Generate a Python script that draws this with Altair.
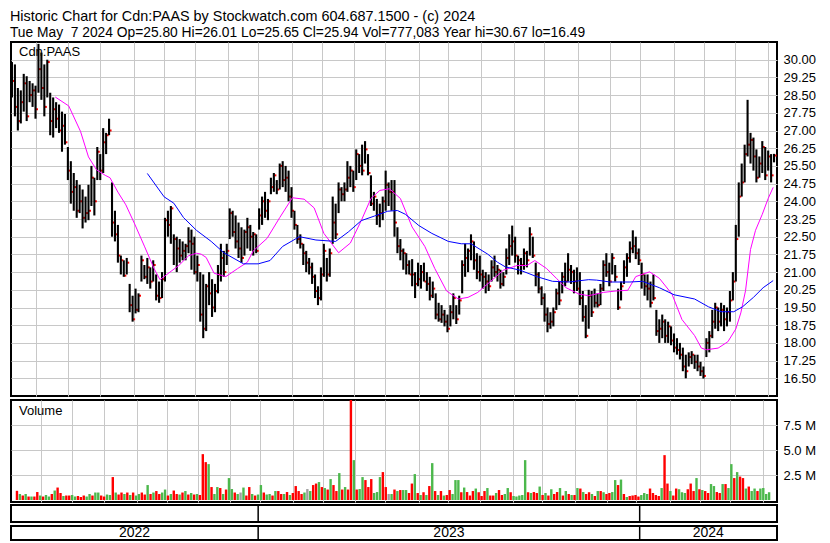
import altair as alt
import pandas as pd

# ---------------- data (one bar per ~2 sessions) ----------------
high = [
    29.9, 29.8, 28.8, 28.7, 29.4, 29.3, 29.1, 29.0, 28.9, 30.67,
    30.3, 29.8, 30.0, 28.6, 28.4, 28.2, 28.1, 27.8, 27.7, 26.3,
    25.7, 25.2, 24.9, 24.7, 24.5, 24.2, 24.7, 25.5, 25.0, 26.3,
    26.0, 27.1, 26.9, 27.5, 24.8, 23.6, 23.0, 21.7, 21.5, 21.6,
    20.5, 20.0, 20.3, 20.1, 21.7, 21.3, 21.6, 21.2, 21.5, 20.9,
    20.6, 21.0, 23.3, 23.6, 23.8, 22.6, 22.5, 22.4, 22.3, 22.2,
    22.9, 22.8, 22.5, 21.7, 21.0, 20.9, 20.5, 21.0, 20.7, 20.5,
    21.3, 22.2, 21.9, 22.2, 23.7, 23.6, 23.4, 23.1, 22.9, 22.8,
    23.3, 23.0, 22.7, 22.6, 23.7, 24.2, 24.4, 24.1, 25.0, 25.2,
    24.9, 25.6, 25.7, 25.5, 25.3, 24.6, 23.6, 23.0, 22.6, 22.2,
    21.9, 21.6, 21.4, 20.9, 20.4, 21.2, 22.2, 21.6, 22.0, 24.2,
    23.9, 24.8, 24.6, 24.8, 25.7, 25.5, 25.3, 26.2, 26.0, 26.4,
    26.55, 26.0, 25.1, 24.4, 24.1, 23.9, 24.2, 25.3, 24.8, 24.9,
    24.9, 22.9, 22.4, 22.0, 21.8, 21.5, 21.55, 21.0, 21.4, 21.3,
    21.4, 21.0, 20.8, 20.6, 20.1, 19.7, 19.6, 19.4, 19.2, 19.6,
    20.1, 19.6, 20.0, 21.5, 22.2, 22.0, 22.6, 22.3, 21.8, 21.7,
    21.1, 21.0, 20.9, 21.5, 21.7, 21.3, 21.1, 21.0, 22.0, 22.6,
    22.97, 22.5, 21.7, 21.6, 22.0, 21.9, 22.9, 22.5, 21.4, 21.0,
    20.4, 20.1, 19.5, 19.3, 19.5, 20.3, 20.6, 21.0, 21.4, 21.8,
    21.3, 21.1, 21.2, 21.0, 20.2, 19.6, 20.25, 20.2, 20.3, 20.1,
    20.5, 21.5, 21.8, 21.4, 21.8, 21.3, 20.3, 20.6, 21.5, 21.8,
    22.3, 22.77, 22.5, 22.0, 21.4, 20.9, 20.9, 20.6, 20.9, 19.4,
    19.0, 19.2, 19.0, 18.9, 18.7, 18.4, 18.2, 18.0, 17.8, 17.5,
    17.6, 17.65, 17.5, 17.5, 17.2, 17.0, 18.2, 18.5, 19.4, 19.7,
    19.5, 19.7, 19.6, 19.5, 20.2, 21.0, 23.0, 24.8, 25.6, 26.4,
    28.3, 26.9, 26.7, 26.2, 25.9, 26.55, 26.3, 26.15, 26.0, 26.01,
]
low = [
    28.4, 27.6, 27.0, 27.3, 27.8, 27.4, 28.2, 28.0, 27.5, 28.6,
    28.3, 27.6, 28.4, 26.8, 26.7, 27.1, 26.9, 26.1, 26.4, 24.9,
    23.9, 23.6, 23.3, 23.5, 22.85, 23.1, 23.2, 23.8, 23.4, 24.9,
    24.9, 25.2, 26.0, 26.8, 22.5, 22.3, 21.4, 20.9, 20.8, 20.9,
    19.3, 18.9, 19.25, 19.3, 20.6, 20.7, 20.5, 20.3, 20.6, 19.8,
    19.7, 19.9, 20.6, 22.5, 22.2, 21.3, 21.0, 21.4, 21.5, 21.5,
    21.8, 21.1, 20.9, 20.6, 18.9, 18.2, 18.5, 19.6, 19.1, 19.3,
    20.1, 20.6, 20.8, 21.3, 22.4, 22.5, 22.0, 21.6, 21.4, 21.7,
    22.0, 21.9, 21.7, 21.8, 22.8, 23.0, 23.3, 23.2, 24.3, 24.4,
    24.3, 24.5, 24.6, 24.4, 24.0, 23.3, 22.8, 22.2, 22.0, 21.3,
    21.0, 20.9, 20.5, 19.9, 19.6, 19.8, 20.8, 20.6, 20.8, 22.2,
    22.4, 23.5, 24.0, 24.0, 24.4, 24.6, 24.4, 24.9, 25.2, 25.1,
    25.6, 25.1, 23.8, 23.6, 23.0, 22.9, 23.2, 23.6, 23.8, 23.6,
    22.5, 21.8, 21.5, 21.1, 20.9, 20.9, 20.4, 19.9, 20.4, 20.3,
    20.6, 20.2, 19.8, 19.9, 19.0, 18.9, 18.85, 18.7, 18.45, 18.7,
    19.0, 18.8, 19.2, 20.1, 20.8, 21.0, 21.5, 21.1, 20.7, 20.6,
    20.3, 20.1, 20.2, 20.6, 20.8, 20.6, 20.3, 20.4, 20.9, 21.3,
    21.7, 21.4, 20.9, 20.9, 21.1, 21.2, 21.7, 21.6, 20.4, 20.1,
    19.6, 18.9, 18.45, 18.6, 18.7, 19.4, 19.6, 20.1, 20.4, 20.6,
    20.5, 20.1, 20.2, 19.6, 18.9, 18.2, 18.6, 19.1, 19.5, 19.5,
    19.6, 20.2, 20.8, 20.4, 20.9, 20.6, 19.4, 19.8, 20.5, 20.8,
    21.4, 21.8, 21.55, 21.3, 20.3, 20.0, 19.8, 19.5, 19.8, 18.3,
    18.0, 18.2, 18.0, 18.0, 17.9, 17.6, 17.5, 17.3, 16.8, 16.5,
    17.0, 17.1, 16.9, 16.8, 16.6, 16.49, 17.4, 17.6, 18.2, 18.6,
    18.5, 18.7, 18.5, 18.7, 18.9, 19.8, 20.6, 22.5, 24.2, 24.8,
    25.9, 25.6, 25.3, 24.8, 25.0, 25.2, 24.9, 25.3, 24.8, 25.65,
]
close = [
    29.1, 28.0, 27.4, 28.2, 29.0, 27.6, 28.5, 28.7, 27.9, 29.6,
    28.8, 28.0, 29.9, 27.4, 27.9, 27.5, 27.0, 27.2, 26.5, 25.3,
    24.4, 24.6, 23.6, 24.0, 23.3, 23.5, 23.6, 25.0, 24.0, 26.1,
    25.3, 26.5, 26.8, 27.0, 23.1, 22.6, 21.7, 21.5, 20.85, 21.4,
    19.6, 19.0, 19.4, 20.0, 21.5, 20.8, 21.2, 20.6, 21.3, 20.0,
    19.9, 20.7, 23.2, 23.0, 23.7, 22.4, 22.0, 21.7, 21.9, 22.1,
    22.3, 22.2, 21.0, 21.3, 19.2, 18.6, 20.4, 20.1, 19.5, 20.2,
    20.9, 21.6, 21.0, 21.9, 23.5, 22.7, 22.3, 22.0, 21.6, 22.7,
    22.9, 22.5, 22.6, 21.9, 23.4, 24.0, 23.6, 24.0, 24.6, 25.1,
    24.5, 25.5, 24.9, 25.0, 24.2, 23.6, 23.0, 22.4, 22.2, 21.8,
    21.4, 21.2, 20.8, 20.2, 19.9, 20.9, 21.9, 20.9, 21.8, 23.1,
    22.6, 24.5, 24.3, 24.5, 25.0, 25.3, 24.6, 26.0, 25.5, 25.3,
    26.2, 25.2, 23.9, 24.2, 23.4, 23.5, 24.0, 24.7, 24.4, 24.4,
    23.1, 22.1, 21.9, 21.8, 21.3, 20.9, 20.9, 20.5, 20.7, 21.0,
    20.6, 20.5, 20.0, 20.3, 19.2, 19.0, 19.2, 18.9, 18.6, 19.3,
    19.9, 19.0, 19.8, 21.3, 21.6, 21.9, 22.3, 21.5, 21.0, 20.9,
    20.8, 20.6, 20.4, 21.2, 21.0, 21.1, 20.5, 20.8, 21.6, 22.1,
    22.3, 21.7, 21.5, 21.3, 21.8, 21.5, 22.6, 21.7, 20.9, 20.3,
    19.9, 19.2, 18.8, 18.9, 19.3, 20.1, 19.8, 20.8, 20.6, 21.1,
    21.0, 20.6, 20.3, 19.9, 19.1, 18.3, 20.0, 19.3, 19.7, 19.6,
    20.3, 21.3, 21.0, 20.6, 21.6, 20.8, 19.5, 20.4, 21.2, 21.6,
    22.0, 22.1, 21.8, 21.5, 20.9, 20.4, 20.3, 19.7, 19.9, 18.5,
    18.6, 18.9, 18.3, 18.7, 18.1, 17.8, 17.7, 17.5, 17.0, 16.8,
    17.4, 17.5, 17.2, 17.0, 16.8, 16.6, 18.0, 18.3, 18.9, 19.5,
    18.9, 19.4, 19.0, 19.3, 19.8, 20.6, 22.4, 24.2, 24.8, 26.0,
    26.4, 26.6, 25.9, 25.0, 25.6, 26.3, 25.1, 25.9, 25.1, 25.94,
]
volume_m = [
    0.92, 0.6, 0.45, 0.6, 0.35, 0.35, 0.35, 0.8, 0.45, 0.35,
    0.5, 0.35, 0.6, 0.95, 1.25, 0.7, 0.4, 0.45, 0.45, 0.5,
    0.35, 0.4, 0.3, 0.45, 0.35, 0.6, 0.45, 0.75, 0.75, 0.45,
    0.35, 0.55, 0.5, 2.3, 0.75, 0.55, 0.75, 0.6, 0.75, 0.5,
    0.75, 0.45, 0.6, 0.75, 0.55, 1.5, 0.6, 0.75, 0.9, 0.6,
    0.75, 1.05, 0.45, 0.6, 0.95, 0.6, 0.55, 0.75, 0.9, 0.55,
    0.7, 0.55, 0.6, 0.5, 4.6, 3.8, 3.6, 1.3, 0.6, 1.3,
    1.2, 0.6, 1.05, 2.2, 1.1, 0.75, 0.6, 0.75, 1.25, 0.45,
    1.3, 0.6, 0.45, 0.55, 1.5, 0.75, 0.55, 0.6, 0.45, 0.9,
    0.9, 0.6, 0.6, 0.8, 0.5, 0.7, 1.4, 0.9, 0.6, 0.75,
    1.1, 0.9, 1.5, 1.65, 1.8, 1.3, 1.2, 1.05, 2.1, 1.5,
    0.9, 2.7, 1.05, 1.3, 1.05, 10.4, 4.0, 1.05, 1.1, 2.3,
    2.0, 1.3, 2.1, 0.7, 0.8, 2.3, 2.8, 1.3, 0.6, 0.6,
    1.05, 0.9, 1.0, 1.0, 1.0, 0.7, 1.65, 2.6, 0.7, 0.5,
    0.78, 0.5, 1.4, 3.7, 0.9, 0.5, 0.9, 0.45, 0.5, 1.0,
    0.6, 2.0, 2.0, 0.78, 1.25, 0.8, 0.45, 0.9, 1.15, 0.78,
    0.4, 0.9, 1.2, 0.45, 0.45, 0.7, 1.0, 0.5, 0.6, 1.2,
    0.78, 0.4, 0.35, 0.45, 0.5, 4.0, 0.78, 0.7, 0.8, 0.7,
    1.35, 0.5, 0.7, 0.45, 1.08, 0.6, 0.8, 1.2, 0.45, 0.9,
    0.6, 0.5, 0.5, 1.2, 1.15, 0.8, 0.6, 0.78, 0.6, 0.4,
    0.9, 0.9, 0.78, 0.6, 0.7, 0.8, 2.0, 1.5, 2.05, 0.6,
    0.3, 0.4, 0.45, 0.5, 0.35, 0.5, 0.7, 0.6, 1.15, 0.7,
    0.5, 0.4, 1.2, 4.5, 1.65, 0.9, 0.45, 1.15, 1.08, 0.78,
    0.7, 1.08, 1.65, 0.9, 2.2, 1.08, 1.0, 0.9, 0.7, 1.6,
    1.4, 0.8, 0.7, 1.6, 1.6, 1.2, 3.6, 2.2, 2.8, 2.35,
    2.2, 1.15, 1.35, 0.9, 1.15, 0.9, 1.15, 1.2, 0.6, 0.78,
]
# g = up day (green), r = down day (red), n = unchanged (grey)
volume_dir = (
    "rgrgrgrrgr" "ggrgrrgrrg" "grrrggrggr" "rggrgrrgrg" "rggrrgrgrr"
    "ggrgrrgrgr" "grgrrrgrgg" "rgrggrgngr" "rgrggrggrg" "rrgrgrrrrg"
    "ngrrgrgrgr" "rgrgrrgrgg" "rrrgggrrng" "rgrggrrgrg" "rgrgrgrgrr"
    "gggrgrrrgr" "rrgrrgrrgg" "rgggggrgrr" "grgrgrrgrg" "rgrgrgrrgr"
    "grgrrggrgr" "grrrrgggrr" "rrgrrgrrgg" "grrrgrgrrg" "grrgrggrgr"
    "rgrggrgggg"
)
# moving averages (bar position, value)
short_ma_bar = [14.7, 19.3, 23.3, 26, 28.7, 31.7, 33.3, 36, 38.7, 41.7, 45, 48.3, 50.3, 53.7,
                56.7, 60, 62.7, 64.3, 66, 68.7, 72.7, 76.7, 80, 82, 86.7, 91, 95.3, 99.3, 102.7,
                106, 111, 115, 118.7, 122, 125, 128.3, 132, 136, 140.3, 143.7, 147.7, 151.7,
                155, 158.3, 162.7, 167, 171.7, 175, 177.7, 181.7, 185, 188.3, 192.7, 196, 201,
                205.3, 209.3, 212, 216.7, 220, 224.3, 227.7, 232, 234.3, 236, 240, 243.3, 246,
                247.7, 249.3, 251, 252.7, 255, 257, 258.7]
short_ma_val = [28.42, 28.04, 26.96, 25.88, 25.34, 25.1, 25.0, 24.39, 23.85, 23.04, 22.1, 21.15,
                20.68, 21.0, 21.28, 21.69, 21.8, 21.76, 21.62, 20.95, 20.81, 21.15, 21.42, 21.9,
                22.43, 23.31, 24.15, 24.09, 23.72, 22.64, 21.82, 22.23, 23.18, 24.12, 24.46,
                24.53, 24.12, 22.91, 22.09, 21.15, 20.2, 19.86, 19.93, 20.14, 20.61, 21.08,
                21.28, 21.28, 21.49, 21.15, 20.74, 20.34, 20.07, 20.0, 20.14, 20.2, 20.23,
                20.81, 21.01, 20.74, 20.07, 18.99, 18.31, 17.78, 17.71, 17.78, 18.05, 18.59,
                19.27, 20.21, 21.96, 22.77, 23.45, 24.12, 24.59]
long_ma_bar = [46, 51.7, 55, 58.3, 62.7, 67.7, 72, 78.7, 83.7, 87.7, 92, 97.7, 103.3, 110,
               114.3, 118.7, 123.3, 127.7, 131, 133.7, 138.3, 142.7, 148.3, 152.7, 156, 161.7,
               165, 167.7, 172.7, 178.3, 183.7, 189.3, 196, 198.7, 203.3, 210, 214.3, 220,
               225, 232, 236.7, 241, 245.3, 248.3, 252, 255.3, 258.7]
long_ma_val = [25.18, 24.19, 23.92, 23.31, 22.77, 22.3, 21.82, 21.35, 21.35, 21.49, 22.09,
               22.5, 22.36, 22.3, 22.7, 23.18, 23.38, 23.58, 23.61, 23.45, 22.97, 22.64, 22.3,
               22.2, 22.2, 21.76, 21.42, 21.22, 21.08, 20.81, 20.61, 20.58, 20.68, 20.66,
               20.58, 20.58, 20.61, 20.34, 20.04, 19.86, 19.53, 19.32, 19.32, 19.53, 19.93,
               20.34, 20.64]
# month starts (bar position) for the vertical grid, year starts for the date strip
month_starts = [8.33, 19, 30, 41.33, 51.67, 62.33, 73.33, 83.67, 95, 105.33, 116.33, 126.67,
                138.33, 148.33, 159.33, 170.67, 180.67, 192.33, 203.33, 213.33, 225, 235.33,
                245.67, 257]
year_starts = [83.67, 213.33]
year_labels = ["2022", "2023", "2024"]
price_ticks = [16.50, 17.25, 18.00, 18.75, 19.50, 20.25, 21.00, 21.75, 22.50, 23.25, 24.00,
               24.75, 25.50, 26.25, 27.00, 27.75, 28.50, 29.25, 30.00]
volume_ticks = [2500000, 5000000, 7500000]
header_line1 = "Historic Chart for Cdn:PAAS by Stockwatch.com 604.687.1500 - (c) 2024"
header_line2 = ("Tue May \u00a07 2024 Op=25.80 Hi=26.01 Lo=25.65 Cl=25.94 "
                "Vol=777,083 Year hi=30.67 lo=16.49")

# ---------------- tables ----------------
n = len(high)
bars = pd.DataFrame({
    "bar": list(range(n)), "high": high, "low": low, "close": close,
    "volume": [v * 1_000_000 for v in volume_m], "dir": list(volume_dir),
})
short_ma = pd.DataFrame({"bar": short_ma_bar, "value": short_ma_val})
long_ma = pd.DataFrame({"bar": long_ma_bar, "value": long_ma_val})
x_domain = [-0.33, 260.0]
bounds = [x_domain[0]] + year_starts + [x_domain[1]]
years = pd.DataFrame({"year": year_labels,
                      "mid": [(bounds[i] + bounds[i + 1]) / 2 for i in range(len(year_labels))]})
ystarts = pd.DataFrame({"start": year_starts})

FONT = "Liberation Sans"
GRID = "#c8c8c8"
W = 766

xscale = alt.Scale(domain=x_domain, nice=False, zero=False)
xgrid = alt.Axis(values=month_starts, grid=True, gridColor=GRID, gridWidth=1, labels=False,
                 ticks=False, domain=False, title=None, labelPadding=0, offset=0)
pscale = alt.Scale(domain=[15.75, 30.75], nice=False, zero=False)
paxis = alt.Axis(orient="right", values=price_ticks, format=".2f", grid=True, gridColor=GRID,
                 gridWidth=1, ticks=False, domain=False, title=None, labelFont=FONT,
                 labelFontSize=13, labelColor="#000000", labelPadding=6)


def px(field):
    return alt.X(field, type="quantitative", scale=xscale, axis=xgrid)


def py(field):
    return alt.Y(field, type="quantitative", scale=pscale, axis=paxis)


closes = alt.Chart(bars).mark_square(color="#ff0000", size=4, opacity=1, xOffset=1.5).encode(
    x=px("bar"), y=py("close"))
ranges = alt.Chart(bars).mark_rule(color="#000000", strokeWidth=2.1).encode(
    x=px("bar"), y=py("high"), y2="low:Q")
ma_s = alt.Chart(short_ma).mark_line(color="#ff00ff", strokeWidth=1).encode(
    x=px("bar"), y=py("value"))
ma_l = alt.Chart(long_ma).mark_line(color="#0000ff", strokeWidth=1).encode(
    x=px("bar"), y=py("value"))
plabel = alt.Chart(pd.DataFrame({"t": ["Cdn:PAAS"]})).mark_text(
    align="left", baseline="alphabetic", font=FONT, fontSize=13, color="#000000").encode(
    x=alt.value(8), y=alt.value(14), text="t:N")
price = alt.layer(closes, ranges, ma_s, ma_l, plabel).properties(width=W, height=354)

vaxis = alt.Axis(orient="right", values=volume_ticks,
                 labelExpr="format(datum.value / 1000000, '.1f') + ' M'", grid=True,
                 gridColor=GRID, gridWidth=1, ticks=False, domain=False, title=None,
                 labelFont=FONT, labelFontSize=13, labelColor="#000000", labelPadding=6)
vbars = alt.Chart(bars).mark_bar(width=2.4, clip=True).encode(
    x=px("bar"),
    y=alt.Y("volume:Q", scale=alt.Scale(domain=[-200000, 10030000], nice=False, zero=False),
            axis=vaxis),
    y2=alt.datum(0),
    color=alt.Color("dir:N", scale=alt.Scale(domain=["g", "r", "n"],
                                             range=["#4cb84c", "#ff0000", "#a0a0a0"]),
                    legend=None),
)
vlabel = alt.Chart(pd.DataFrame({"t": ["Volume"]})).mark_text(
    align="left", baseline="alphabetic", font=FONT, fontSize=13, color="#000000").encode(
    x=alt.value(8), y=alt.value(15), text="t:N")
volume = alt.layer(vbars, vlabel).properties(width=W, height=102)

sep = alt.Chart(ystarts).mark_rule(color="#000000", strokeWidth=1.5).encode(
    x=alt.X("start:Q", scale=xscale, axis=None))
mid_row = sep.properties(width=W, height=17)
ytext = alt.Chart(years).mark_text(font=FONT, fontSize=14, baseline="middle",
                                   color="#000000").encode(
    x=alt.X("mid:Q", scale=xscale, axis=None), y=alt.value(7), text="year:N")
year_row = alt.layer(sep, ytext).properties(width=W, height=14)

lower = alt.vconcat(volume, mid_row, year_row, spacing=0)
chart = alt.vconcat(price, lower, spacing=2).properties(
    title=alt.TitleParams(text=header_line1, subtitle=header_line2, anchor="start", font=FONT,
                          fontSize=14.4, fontWeight="normal", color="#000000",
                          subtitleFont=FONT, subtitleFontSize=13.8, subtitleColor="#000000",
                          subtitlePadding=2, offset=0),
    padding={"left": 1, "top": 0, "right": 0, "bottom": 0},
    background="white",
).configure_view(stroke="#000000", strokeWidth=2)

chart.save("out.html", embed_options={"renderer": "svg", "actions": False})
